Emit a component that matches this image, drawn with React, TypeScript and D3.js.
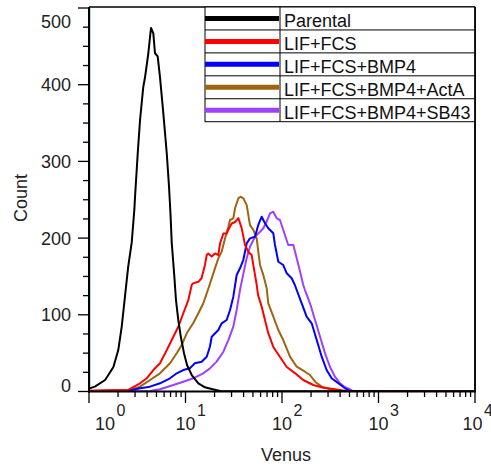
import React from 'react';
import * as d3 from 'd3';

const W = 491;
const H = 471;

const seriesLabels = ['Parental', 'LIF+FCS', 'LIF+FCS+BMP4', 'LIF+FCS+BMP4+ActA', 'LIF+FCS+BMP4+SB43'];
const seriesColors = ['#000000', '#ff0000', '#0000ff', '#a0640f', '#a040ff'];

const parentalVenus = [1, 1.15, 1.47, 1.79, 2.01, 2.18, 2.36, 2.55, 2.77, 2.95, 3.0, 3.2, 3.38, 3.65, 3.8, 4.12, 4.39, 4.64, 4.83, 5.15, 5.44, 5.89, 6.39, 6.75, 7.0, 7.2, 7.66, 7.97, 8.42, 8.98, 9.65, 10.37, 11.6, 13.6, 15.9, 18.7, 22.8, 10000];
const parentalCount = [3.9, 6.3, 15, 32, 54, 84, 124, 163, 194, 237, 254, 311, 354, 397, 409, 441, 474, 467, 441, 437, 410, 363, 311, 267, 230, 194, 150, 119, 93, 70, 50, 34.5, 21.5, 10.7, 5.5, 3.3, 0.6, 0];

const lifVenus = [1, 2.55, 3.38, 3.96, 4.64, 5.44, 6.39, 7.48, 8.42, 9.49, 10.7, 11.6, 12.0, 13.6, 14.7, 15.9, 16.6, 17.2, 18.7, 20.2, 21.9, 22.8, 24.7, 26.7, 27.8, 30.1, 32.6, 35.3, 38.2, 41.4, 44.8, 48.5, 50.4, 52.5, 54.7, 56.4, 61.6, 66.7, 72.1, 81.3, 95.3, 112, 136, 166, 211, 268, 340, 450, 10000];
const lifCount = [1, 2, 10.7, 17.2, 28, 36.8, 54, 71.4, 84.5, 102, 119, 139, 141, 143, 148, 165, 178, 180, 176, 180, 178, 193, 206, 206, 211, 219, 221, 226, 213, 191, 182, 178, 165, 152, 139, 126, 110.6, 93, 76, 58, 45, 32, 24, 15, 8.5, 5, 3.3, 0.6, 0];

const bmp4Venus = [1, 2.66, 3.38, 4.29, 5.44, 6.91, 8.11, 9.49, 11.1, 12.5, 14.7, 16.6, 17.9, 18.7, 21.9, 23.7, 26.7, 28.9, 31.3, 33.9, 36.7, 39.7, 43.1, 46.6, 52.5, 56.8, 61.6, 66.7, 72.1, 81.3, 84.6, 91.6, 103, 112, 126, 136, 142, 160, 180, 203, 229, 258, 290, 327, 383, 450, 507, 10000];
const bmp4Count = [0.5, 1.3, 4.2, 6.3, 10.7, 17.2, 23.7, 28, 30.2, 36.8, 38.9, 45.4, 58.4, 71.4, 80.2, 88.9, 93.2, 106, 123.6, 151.9, 160.6, 171.4, 193.2, 199.7, 201.8, 217.1, 227.9, 219.3, 212.8, 206.3, 191, 169.2, 164.9, 154.1, 147.6, 138.9, 132.3, 115, 97.5, 88.9, 67.1, 45.4, 28, 17.2, 10.7, 4.2, 0.6, 0];

const actaVenus = [1, 2.66, 3.38, 4.29, 5.44, 6.91, 8.11, 9.13, 10.3, 12.0, 13.6, 15.3, 17.2, 18.7, 20.2, 21.9, 23.7, 25.7, 27.8, 28.9, 31.3, 32.6, 35.3, 37.2, 39.7, 43.1, 44.8, 46.6, 50.5, 54.7, 56.8, 59.2, 64.0, 69.4, 72.1, 81.3, 91.6, 103, 121, 142, 173, 195, 220, 258, 314, 450, 10000];
const actaCount = [0.5, 2, 6.3, 15, 23.7, 36.8, 49.8, 60.6, 75.9, 88.9, 102, 115, 133.6, 147.6, 160.6, 173.7, 182.3, 199.7, 214.9, 223.6, 225.8, 238.9, 251.9, 254, 251.9, 243, 230, 217, 210.6, 199.7, 182.3, 165, 152, 134.6, 115, 97.5, 80.2, 67.1, 45.4, 32.3, 25.8, 21.5, 12.8, 6.3, 3.3, 0.6, 0];

const sb43Venus = [1, 4.29, 5.44, 7.48, 9.49, 12.0, 15.3, 17.9, 21.0, 24.7, 27.8, 31.3, 33.9, 36.7, 39.7, 43.1, 46.6, 50.5, 54.7, 59.2, 64.0, 69.4, 75.2, 81.3, 88.1, 95.3, 103, 116, 131, 142, 154, 166, 173, 195, 220, 248, 279, 314, 354, 399, 450, 507, 545, 10000];
const sb43Count = [0.3, 0.7, 2.9, 8.5, 12.8, 17.2, 23.7, 30.2, 38.9, 51.9, 67.1, 84.5, 106.3, 132.3, 153, 174, 188.8, 197.5, 204, 208.3, 212.8, 221.4, 232.3, 234.4, 225.8, 223.6, 210.6, 191, 191, 173.7, 156.2, 138.9, 132.3, 115, 93.2, 71.4, 49.8, 32.3, 19.3, 10.7, 5.5, 2.9, 0.6, 0];

const yTickLabels = ['0', '100', '200', '300', '400', '500'];
const yTickValues = [0, 100, 200, 300, 400, 500];
const xMajorValues = [1, 10, 100, 1000, 10000];
const xExponents = ['0', '1', '2', '3', '4'];

const FONT = '"Liberation Sans", Arial, sans-serif';

export default function App() {
  const left = 89, right = 475, top = 8, bottom = 391.5;
  const x = d3.scaleLog().domain([1, 10000]).range([left, right]);
  const y = d3.scaleLinear().domain([0, 500]).range([bottom, top]);

  const series = [
    { v: parentalVenus, c: parentalCount },
    { v: lifVenus, c: lifCount },
    { v: bmp4Venus, c: bmp4Count },
    { v: actaVenus, c: actaCount },
    { v: sb43Venus, c: sb43Count },
  ];

  const line = d3
    .line<[number, number]>()
    .x((d) => x(d[0]))
    .y((d) => y(d[1]));

  const xTicksAll = x.ticks();
  const isMajor = (t: number) => Math.abs(Math.log10(t) - Math.round(Math.log10(t))) < 1e-9;
  const yMinor = d3.range(0, 501, 25);

  const legendTop = 7;
  const legendLeft = 205;
  const legendDiv = 280;
  const rowH = 22.94;

  const drawOrder = [4, 3, 2, 1, 0];

  return (
    <svg
      width={W}
      height={H}
      style={{ position: 'absolute', left: 0, top: 0, background: '#fff' }}
      fontFamily={FONT}
    >
      <rect x={0} y={0} width={W} height={H} fill="#fff" />
      <defs>
        <clipPath id="plotclip">
          <rect x={left} y={top - 2} width={right - left} height={bottom - top + 2} />
        </clipPath>
      </defs>

      {/* light cyan inner edge */}
      <line x1={left + 1.5} x2={left + 1.5} y1={top} y2={bottom} stroke="#a8dede" strokeWidth={1.2} />

      {/* curves */}
      <g clipPath="url(#plotclip)">
        {drawOrder.map((i) => {
          const s = series[i];
          const pts = s.v.map((vv, k) => [vv, s.c[k]] as [number, number]);
          return (
            <path
              key={i}
              d={line(pts) || ''}
              fill="none"
              stroke={seriesColors[i]}
              strokeWidth={2}
              strokeLinejoin="round"
            />
          );
        })}
      </g>

      {/* frame */}
      <line x1={left} x2={right} y1={7} y2={7} stroke="#000" strokeWidth={1.5} />
      <line x1={right} x2={right} y1={7} y2={bottom} stroke="#000" strokeWidth={1.5} />
      <line x1={left} x2={left} y1={7} y2={bottom + 1} stroke="#000" strokeWidth={2} />
      <line x1={left - 1} x2={right + 1} y1={bottom} y2={bottom} stroke="#000" strokeWidth={2} />

      {/* y ticks */}
      {yMinor.map((t) => {
        const major = t % 100 === 0;
        return (
          <line
            key={'yt' + t}
            x1={left - (major ? 11 : 6)}
            x2={left}
            y1={y(t)}
            y2={y(t)}
            stroke="#000"
            strokeWidth={1.3}
          />
        );
      })}
      {yTickValues.map((t, i) => {
        let cy = y(t);
        if (t === 500) cy = 21.7;
        if (t === 0) cy = 385.8;
        return (
          <text key={'yl' + t} x={71} y={cy + 6.5} textAnchor="end" fontSize={18} fill="#222">
            {yTickLabels[i]}
          </text>
        );
      })}

      {/* x ticks */}
      {xTicksAll.map((t, i) => {
        const major = isMajor(t);
        return (
          <line
            key={'xt' + i}
            x1={x(t)}
            x2={x(t)}
            y1={bottom}
            y2={bottom + (major ? 11.5 : 5.5)}
            stroke="#000"
            strokeWidth={1.3}
          />
        );
      })}
      {xMajorValues.map((t, i) => {
        let cx = x(t);
        if (cx < 105) cx = 105;
        if (cx > 472.5) cx = 472.5;
        return (
          <g key={'xl' + t}>
            <text x={cx} y={429.5} textAnchor="middle" fontSize={18} fill="#222">
              10
            </text>
            <text x={cx + 11.5} y={415.5} textAnchor="start" fontSize={16} fill="#222">
              {xExponents[i]}
            </text>
          </g>
        );
      })}

      {/* axis titles */}
      <text x={286} y={461} textAnchor="middle" fontSize={18} fill="#222">
        Venus
      </text>
      <text
        transform={`translate(26.5,198) rotate(-90)`}
        textAnchor="middle"
        fontSize={18}
        fill="#222"
      >
        Count
      </text>

      {/* legend */}
      <g>
        <rect
          x={legendLeft}
          y={legendTop}
          width={right - legendLeft}
          height={rowH * seriesLabels.length}
          fill="#fff"
          stroke="#000"
          strokeWidth={1}
        />
        {seriesLabels.map((lab, i) => {
          const ry = legendTop + i * rowH;
          return (
            <g key={'lg' + i}>
              {i > 0 && (
                <line x1={legendLeft} x2={right} y1={ry} y2={ry} stroke="#000" strokeWidth={1} />
              )}
              <line
                x1={legendLeft}
                x2={legendDiv - 1}
                y1={ry + rowH / 2}
                y2={ry + rowH / 2}
                stroke={seriesColors[i]}
                strokeWidth={5}
              />
              <text x={legendDiv + 4} y={ry + 20} fontSize={18} fill="#111">
                {lab}
              </text>
            </g>
          );
        })}
        <line
          x1={legendDiv}
          x2={legendDiv}
          y1={legendTop}
          y2={legendTop + rowH * seriesLabels.length}
          stroke="#000"
          strokeWidth={1}
        />
      </g>
      <line x1={right} x2={right} y1={7} y2={bottom} stroke="#000" strokeWidth={1.5} />
    </svg>
  );
}
